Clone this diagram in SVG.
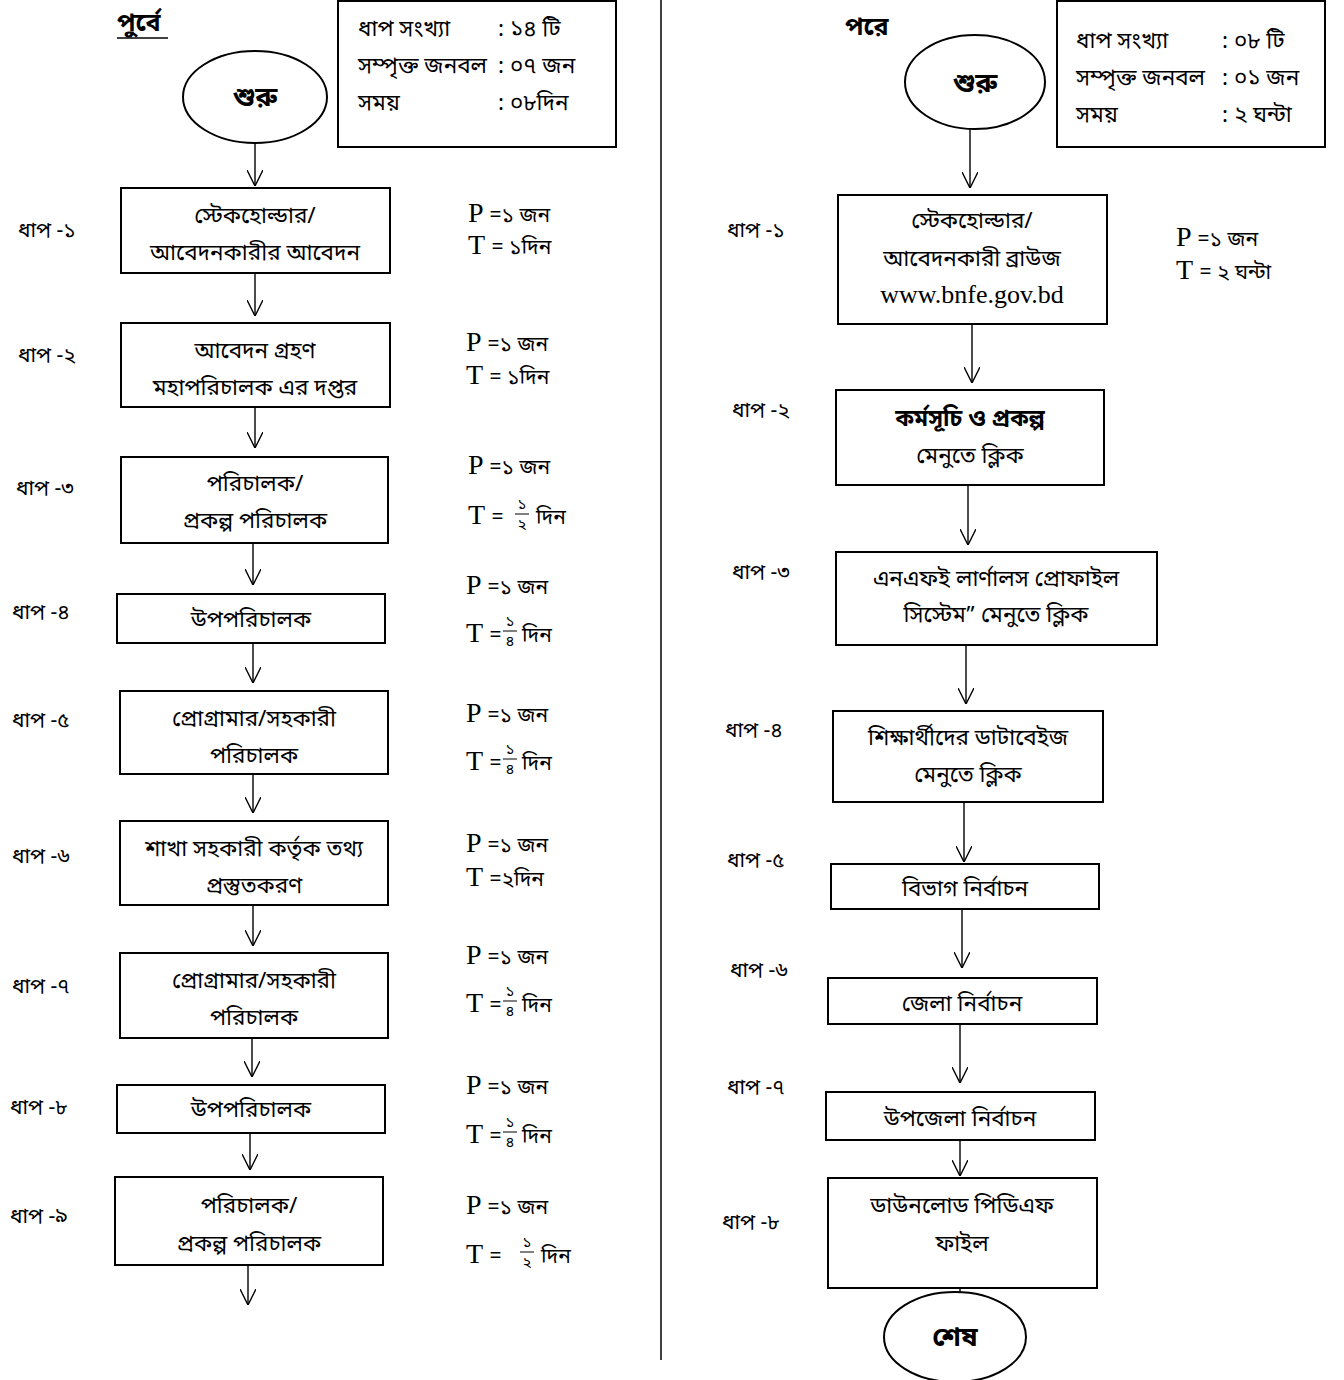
<svg xmlns="http://www.w3.org/2000/svg" width="1344" height="1380" viewBox="0 0 1344 1380">
<style>
text{font-family:"Noto Sans Bengali","Noto Serif Bengali","Lohit Bengali","FreeSans","Noto Sans",sans-serif;fill:#000}
.bx{fill:#fff;stroke:#000;stroke-width:2}
.el{fill:#fff;stroke:#000;stroke-width:2}
.t{font-size:22.5px;text-anchor:middle}
.tb{font-size:23px;text-anchor:middle;font-weight:bold}
.te{font-size:27px;text-anchor:middle;font-weight:bold}
.st{font-size:21px}
.inf{font-size:22.5px}
.pt{font-family:"Liberation Serif","Times New Roman",serif;font-size:28px}
.bn{font-size:21px}
.fr{font-size:15px;text-anchor:middle}
.hd{font-size:25px;font-weight:bold}
.url{font-family:"Liberation Serif","Times New Roman",serif;font-size:26px;text-anchor:middle}
.cn line{stroke:#000;stroke-width:1.4;marker-end:url(#ah)}
</style>
<defs>
<marker id="ah" viewBox="0 0 16 16" refX="16" refY="8" markerWidth="16" markerHeight="16" markerUnits="userSpaceOnUse" orient="auto">
<path d="M0,0 L16,8 L0,16" fill="none" stroke="#000" stroke-width="1.4"/>
</marker>
</defs>
<rect width="1344" height="1380" fill="#fff"/>
<line x1="661" y1="0" x2="661" y2="1360" stroke="#000" stroke-width="1.5"/>

<g id="title-left"><text class="hd" x="117" y="31">পুর্বে</text><line x1="117" y1="38" x2="168" y2="38" stroke="#000" stroke-width="1.5"/></g>
<g id="title-right"><text class="hd" x="845" y="35">পরে</text></g>

<g id="info-left">
<rect class="bx" x="338" y="1" width="278" height="146"/>
<text class="inf" x="358" y="36">ধাপ সংখ্যা</text><text class="inf" x="498" y="36">: ১৪ টি</text>
<text class="inf" x="358" y="73">সম্পৃক্ত জনবল</text><text class="inf" x="498" y="73">: ০৭ জন</text>
<text class="inf" x="358" y="110">সময়</text><text class="inf" x="498" y="110">: ০৮দিন</text>
</g>
<g id="info-right">
<rect class="bx" x="1057" y="1" width="268" height="146"/>
<text class="inf" x="1076" y="48">ধাপ সংখ্যা</text><text class="inf" x="1222" y="48">: ০৮ টি</text>
<text class="inf" x="1076" y="85">সম্পৃক্ত জনবল</text><text class="inf" x="1222" y="85">: ০১ জন</text>
<text class="inf" x="1076" y="122">সময়</text><text class="inf" x="1222" y="122">: ২ ঘন্টা</text>
</g>

<g id="start-left"><ellipse class="el" cx="255" cy="97" rx="72" ry="46"/><text class="te" x="255" y="106">শুরু</text></g>
<g id="start-right"><ellipse class="el" cx="975" cy="82" rx="70" ry="47"/><text class="te" x="975" y="92">শুরু</text></g>

<g class="cn" id="connectors">
<line x1="255" y1="143" x2="255" y2="186"/>
<line x1="255" y1="273" x2="255" y2="316"/>
<line x1="255" y1="407" x2="255" y2="448"/>
<line x1="253" y1="543" x2="253" y2="585"/>
<line x1="253" y1="643" x2="253" y2="683"/>
<line x1="253" y1="774" x2="253" y2="813"/>
<line x1="253" y1="905" x2="253" y2="946"/>
<line x1="252" y1="1038" x2="252" y2="1077"/>
<line x1="250" y1="1133" x2="250" y2="1170"/>
<line x1="248" y1="1265" x2="248" y2="1305"/>
<line x1="970" y1="129" x2="970" y2="188"/>
<line x1="972" y1="324" x2="972" y2="383"/>
<line x1="968" y1="485" x2="968" y2="545"/>
<line x1="966" y1="645" x2="966" y2="704"/>
<line x1="964" y1="802" x2="964" y2="862"/>
<line x1="962" y1="909" x2="962" y2="968"/>
<line x1="960" y1="1024" x2="960" y2="1083"/>
<line x1="960" y1="1140" x2="960" y2="1176"/>
<line x1="960" y1="1288" x2="960" y2="1312"/>
</g>

<g id="L1"><rect class="bx" x="121" y="188" width="269" height="85"/><text class="t" x="255" y="223">স্টেকহোল্ডার/</text><text class="t" x="255" y="260">আবেদনকারীর আবেদন</text></g>
<g id="L2"><rect class="bx" x="121" y="323" width="269" height="84"/><text class="t" x="255" y="358">আবেদন গ্রহণ</text><text class="t" x="255" y="395">মহাপরিচালক এর দপ্তর</text></g>
<g id="L3"><rect class="bx" x="121" y="457" width="267" height="86"/><text class="t" x="255" y="491">পরিচালক/</text><text class="t" x="255" y="528">প্রকল্প পরিচালক</text></g>
<g id="L4"><rect class="bx" x="117" y="594" width="268" height="49"/><text class="t" x="251" y="627">উপপরিচালক</text></g>
<g id="L5"><rect class="bx" x="120" y="691" width="268" height="83"/><text class="t" x="254" y="726">প্রোগ্রামার/সহকারী</text><text class="t" x="254" y="763">পরিচালক</text></g>
<g id="L6"><rect class="bx" x="120" y="821" width="268" height="84"/><text class="t" x="254" y="856">শাখা সহকারী কর্তৃক তথ্য</text><text class="t" x="254" y="893">প্রস্তুতকরণ</text></g>
<g id="L7"><rect class="bx" x="120" y="953" width="268" height="85"/><text class="t" x="254" y="988">প্রোগ্রামার/সহকারী</text><text class="t" x="254" y="1025">পরিচালক</text></g>
<g id="L8"><rect class="bx" x="117" y="1085" width="268" height="48"/><text class="t" x="251" y="1117">উপপরিচালক</text></g>
<g id="L9"><rect class="bx" x="115" y="1177" width="268" height="88"/><text class="t" x="249" y="1213">পরিচালক/</text><text class="t" x="249" y="1251">প্রকল্প পরিচালক</text></g>

<g id="step-labels-left">
<text class="st" x="18" y="237">ধাপ -১</text>
<text class="st" x="18" y="362">ধাপ -২</text>
<text class="st" x="16" y="495">ধাপ -৩</text>
<text class="st" x="12" y="619">ধাপ -৪</text>
<text class="st" x="12" y="727">ধাপ -৫</text>
<text class="st" x="12" y="863">ধাপ -৬</text>
<text class="st" x="12" y="993">ধাপ -৭</text>
<text class="st" x="10" y="1114">ধাপ -৮</text>
<text class="st" x="10" y="1223">ধাপ -৯</text>
</g>

<g id="pt-left">
<text x="468" y="222"><tspan class="pt">P </tspan><tspan class="bn">=১ জন</tspan></text>
<text x="468" y="254"><tspan class="pt">T </tspan><tspan class="bn">= ১দিন</tspan></text>
<text x="466" y="351"><tspan class="pt">P </tspan><tspan class="bn">=১ জন</tspan></text>
<text x="466" y="384"><tspan class="pt">T </tspan><tspan class="bn">= ১দিন</tspan></text>
<text x="468" y="474"><tspan class="pt">P </tspan><tspan class="bn">=১ জন</tspan></text>
<text x="468" y="524"><tspan class="pt">T </tspan><tspan class="bn">=</tspan></text><text class="fr" x="522" y="510">১</text><line x1="515" y1="514" x2="529" y2="514" stroke="#000"/><text class="fr" x="522" y="529">২</text><text class="bn" x="536" y="524">দিন</text>
<text x="466" y="594"><tspan class="pt">P </tspan><tspan class="bn">=১ জন</tspan></text>
<text x="466" y="642"><tspan class="pt">T </tspan><tspan class="bn">=</tspan></text><text class="fr" x="510" y="627">১</text><line x1="503" y1="631" x2="517" y2="631" stroke="#000"/><text class="fr" x="510" y="646">৪</text><text class="bn" x="522" y="642">দিন</text>
<text x="466" y="722"><tspan class="pt">P </tspan><tspan class="bn">=১ জন</tspan></text>
<text x="466" y="770"><tspan class="pt">T </tspan><tspan class="bn">=</tspan></text><text class="fr" x="510" y="755">১</text><line x1="503" y1="759" x2="517" y2="759" stroke="#000"/><text class="fr" x="510" y="774">৪</text><text class="bn" x="522" y="770">দিন</text>
<text x="466" y="852"><tspan class="pt">P </tspan><tspan class="bn">=১ জন</tspan></text>
<text x="466" y="886"><tspan class="pt">T </tspan><tspan class="bn">=২দিন</tspan></text>
<text x="466" y="964"><tspan class="pt">P </tspan><tspan class="bn">=১ জন</tspan></text>
<text x="466" y="1012"><tspan class="pt">T </tspan><tspan class="bn">=</tspan></text><text class="fr" x="510" y="997">১</text><line x1="503" y1="1001" x2="517" y2="1001" stroke="#000"/><text class="fr" x="510" y="1016">৪</text><text class="bn" x="522" y="1012">দিন</text>
<text x="466" y="1094"><tspan class="pt">P </tspan><tspan class="bn">=১ জন</tspan></text>
<text x="466" y="1143"><tspan class="pt">T </tspan><tspan class="bn">=</tspan></text><text class="fr" x="510" y="1128">১</text><line x1="503" y1="1132" x2="517" y2="1132" stroke="#000"/><text class="fr" x="510" y="1147">৪</text><text class="bn" x="522" y="1143">দিন</text>
<text x="466" y="1214"><tspan class="pt">P </tspan><tspan class="bn">=১ জন</tspan></text>
<text x="466" y="1263"><tspan class="pt">T </tspan><tspan class="bn">=</tspan></text><text class="fr" x="527" y="1248">১</text><line x1="520" y1="1252" x2="534" y2="1252" stroke="#000"/><text class="fr" x="527" y="1267">২</text><text class="bn" x="541" y="1263">দিন</text>
</g>

<g id="R1"><rect class="bx" x="838" y="195" width="269" height="129"/><text class="t" x="972" y="228">স্টেকহোল্ডার/</text><text class="t" x="972" y="266">আবেদনকারী ব্রাউজ</text><text class="url" x="972" y="303">www.bnfe.gov.bd</text></g>
<g id="R2"><rect class="bx" x="836" y="390" width="268" height="95"/><text class="tb" x="970" y="426">কর্মসূচি ও প্রকল্প</text><text class="t" x="970" y="463">মেনুতে ক্লিক</text></g>
<g id="R3"><rect class="bx" x="836" y="552" width="321" height="93"/><text class="t" x="996" y="586">এনএফই লার্ণালস প্রোফাইল</text><text class="t" x="996" y="622">সিস্টেম” মেনুতে ক্লিক</text></g>
<g id="R4"><rect class="bx" x="833" y="711" width="270" height="91"/><text class="t" x="968" y="745">শিক্ষার্থীদের ডাটাবেইজ</text><text class="t" x="968" y="782">মেনুতে ক্লিক</text></g>
<g id="R5"><rect class="bx" x="831" y="864" width="268" height="45"/><text class="t" x="965" y="896">বিভাগ নির্বাচন</text></g>
<g id="R6"><rect class="bx" x="828" y="978" width="269" height="46"/><text class="t" x="962" y="1011">জেলা নির্বাচন</text></g>
<g id="R7"><rect class="bx" x="826" y="1092" width="269" height="48"/><text class="t" x="960" y="1126">উপজেলা নির্বাচন</text></g>
<g id="R8"><rect class="bx" x="828" y="1178" width="269" height="110"/><text class="t" x="962" y="1213">ডাউনলোড পিডিএফ</text><text class="t" x="962" y="1251">ফাইল</text></g>
<g id="end-right"><ellipse class="el" cx="955" cy="1337" rx="71" ry="45"/><text class="te" x="955" y="1346">শেষ</text></g>

<g id="step-labels-right">
<text class="st" x="727" y="237">ধাপ -১</text>
<text class="st" x="732" y="417">ধাপ -২</text>
<text class="st" x="732" y="579">ধাপ -৩</text>
<text class="st" x="725" y="737">ধাপ -৪</text>
<text class="st" x="727" y="867">ধাপ -৫</text>
<text class="st" x="730" y="977">ধাপ -৬</text>
<text class="st" x="727" y="1094">ধাপ -৭</text>
<text class="st" x="722" y="1229">ধাপ -৮</text>
</g>
<g id="pt-right">
<text x="1176" y="246"><tspan class="pt">P </tspan><tspan class="bn">=১ জন</tspan></text>
<text x="1176" y="279"><tspan class="pt">T </tspan><tspan class="bn">= ২ ঘন্টা</tspan></text>
</g>
</svg>
